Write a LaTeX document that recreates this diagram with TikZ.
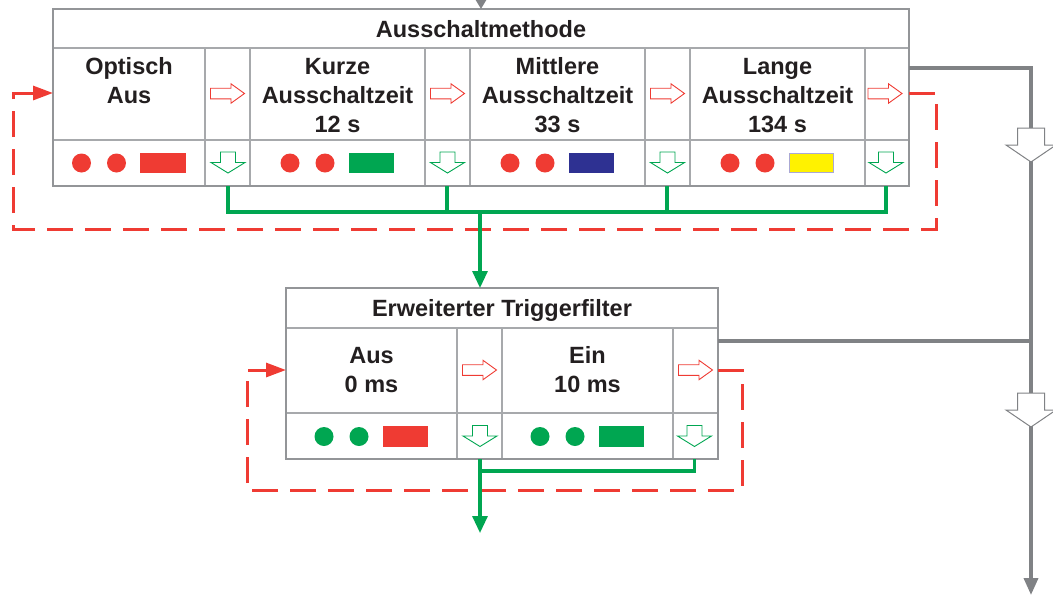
\documentclass[tikz,border=0pt]{standalone}
\usepackage{fontspec}
\setmainfont{Liberation Sans}
\usetikzlibrary{arrows.meta,positioning}

\definecolor{frameGray}{RGB}{147,149,152}
\definecolor{cellGray}{RGB}{167,169,172}
\definecolor{busGray}{RGB}{128,130,133}
\definecolor{sigRed}{RGB}{239,59,51}
\definecolor{sigGreen}{RGB}{0,166,81}
\definecolor{sigBlue}{RGB}{46,49,146}
\definecolor{sigYellow}{RGB}{255,242,0}
\definecolor{rimLilac}{RGB}{170,168,212}
\definecolor{txtBlack}{RGB}{35,31,32}

\tikzset{
  frame/.style={draw=frameGray, line width=2.6pt, inner sep=0pt, outer sep=0pt},
  cell/.style={draw=cellGray, line width=1.4pt},
  caption/.style={font=\bfseries\fontsize{23.5}{29}\selectfont, text=txtBlack, inner sep=0pt, anchor=base},
  label/.style={caption, align=center},
  bus/.style={draw=busGray, line width=3.6pt},
  feed/.style={draw=sigGreen, line width=3.2pt},
  loopback/.style={draw=sigRed, line width=3pt, dash pattern=on 26pt off 12pt,
    -{Triangle[length=20pt,width=14pt]}},
  nextarrow/.pic={\draw[sigRed, line width=0.9pt, fill=white] (-17,-5.3) -- (3.5,-5.3) -- (3.5,-9.7)
    -- (17,0) -- (3.5,9.7) -- (3.5,5.3) -- (-17,5.3) -- cycle;},
  downarrow/.pic={\draw[sigGreen, line width=0.9pt, fill=white] (-7.5,-10.5) -- (7.5,-10.5) -- (7.5,0)
    -- (17,0) -- (0,10.5) -- (-17,0) -- (-7.5,0) -- cycle;},
  bigarrow/.pic={\draw[busGray, line width=1pt, fill=white] (-13.5,-17) -- (13.5,-17) -- (13.5,0)
    -- (25,0) -- (0,17) -- (-25,0) -- (-13.5,0) -- cycle;}
}

\begin{document}
\begin{tikzpicture}[x=1pt, y=-1pt]
\useasboundingbox (0,0) rectangle (1053,595);

% cell lines
\draw[cell] (53,48) -- (909,48) (53,140) -- (909,140);
\foreach \gx in {205,250,425,470,645,690,865}
  \draw[cell] (\gx,48) -- (\gx,186);
\draw[cell] (286,328) -- (718,328) (286,413) -- (718,413);
\foreach \gx in {457,502,673}
  \draw[cell] (\gx,328) -- (\gx,459);

% tables
\node[frame, minimum width=856pt, minimum height=177pt] (methode) at (481,97.5) {};
\node[frame, minimum width=432pt, minimum height=171pt] (trigger) at (502,373.5) {};

% texts (base = last line)
\node[caption] (tMethode) at (481,37) {Ausschaltmethode};
\node[label] (tOptisch) at (129,103) {Optisch\\Aus};
\node[label] (tKurz) at (337.5,132) {Kurze\\Ausschaltzeit\\12 s};
\node[label] (tMittel) at (557.5,132) {Mittlere\\Ausschaltzeit\\33 s};
\node[label] (tLang) at (777.5,132) {Lange\\Ausschaltzeit\\134 s};
\node[caption] (tTrigger) at (502,316) {Erweiterter Triggerfilter};
\node[label] (tAus) at (371.5,392) {Aus\\0 ms};
\node[label] (tEin) at (587.5,392) {Ein\\10 ms};

% signal lamps
\foreach \cx/\cy/\dotc/\barc/\rimc in {129/163/sigRed/sigRed/sigRed,
    337.5/163/sigRed/sigGreen/sigGreen, 557.5/163/sigRed/sigBlue/sigBlue,
    777.5/163/sigRed/sigYellow/rimLilac, 371.5/436.5/sigGreen/sigRed/sigRed,
    587.5/436.5/sigGreen/sigGreen/sigGreen}{
  \fill[\dotc] (\cx-47.5,\cy) circle[radius=9.5] (\cx-12.5,\cy) circle[radius=9.5];
  \filldraw[fill=\barc, draw=\rimc, line width=1.2pt] (\cx+12,\cy-9.5) rectangle (\cx+56,\cy+9.5);
}

% small arrows
\foreach \ax/\ay in {227.5/93.5, 447.5/93.5, 667.5/93.5, 885/93.5, 479.5/370, 695.5/370}
  \pic at (\ax,\ay) {nextarrow};
\foreach \ax/\ay in {228/162.5, 447.5/162.5, 667.5/162.5, 886/162.5, 480/436, 694.5/436}
  \pic at (\ax,\ay) {downarrow};

% gray bus
\coordinate (busTop) at (1031,68);
\coordinate (busJoin) at (1031,341);
\coordinate (busEnd) at (1031,595);
\coordinate (busIn) at (481,-12);
\draw[bus, -{Triangle[length=9pt,width=10pt]}] (busIn) -- (methode.north);
\draw[bus, -{Triangle[length=17pt,width=14pt]}] (methode.east |- busTop) -- (busTop) -- (busEnd);
\draw[bus] (trigger.east |- busJoin) -- (busJoin);
\pic at (1031,145) {bigarrow};
\pic at (1031,410) {bigarrow};

% red loops
\coordinate (loopA) at (936,229);
\coordinate (loopB) at (13,93);
\draw[loopback] (methode.east |- loopB) -| (loopA) -| (loopB) -- (methode.west |- loopB);
\coordinate (tLoopA) at (742,490);
\coordinate (tLoopB) at (247,370);
\draw[loopback] (trigger.east |- tLoopB) -| (tLoopA) -| (tLoopB) -- (trigger.west |- tLoopB);

% green feeds
\coordinate (feedL) at (228,212);
\coordinate (feedS) at (447,212);
\coordinate (feedM) at (667,212);
\coordinate (feedR) at (886,212);
\coordinate (feedMid) at (480,212);
\draw[feed] (methode.south -| feedL) -- (feedL) -- (feedR) -- (methode.south -| feedR);
\draw[feed] (methode.south -| feedS) -- (feedS);
\draw[feed] (methode.south -| feedM) -- (feedM);
\draw[feed, -{Triangle[length=17pt,width=15pt]}] (feedMid) -- (trigger.north -| feedMid);
\coordinate (tFeedL) at (480,471);
\coordinate (tFeedR) at (694.5,471);
\coordinate (tOut) at (480,533);
\draw[feed] (trigger.south -| tFeedR) -- (tFeedR) -- (tFeedL);
\draw[feed, -{Triangle[length=17pt,width=15pt]}] (trigger.south -| tFeedL) -- (tOut);
\end{tikzpicture}
\end{document}
